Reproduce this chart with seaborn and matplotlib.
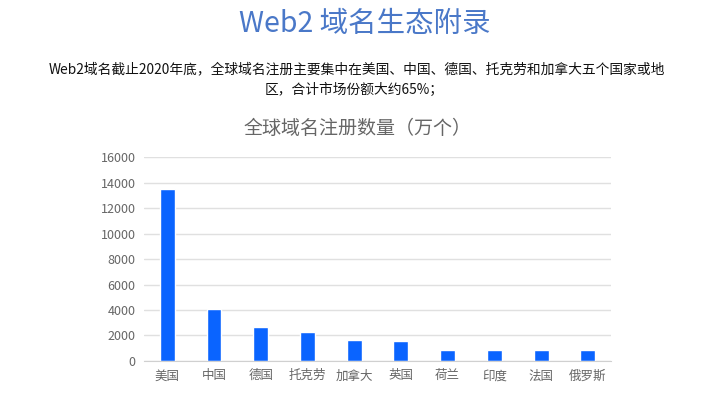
import matplotlib
matplotlib.use("Agg")
import matplotlib.pyplot as plt
import seaborn as sns
import pandas as pd

countries = ["美国", "中国", "德国", "托克劳", "加拿大", "英国", "荷兰", "印度", "法国", "俄罗斯"]
values = [13500, 4100, 2700, 2280, 1620, 1570, 880, 850, 850, 850]
yticks = [0, 2000, 4000, 6000, 8000, 10000, 12000, 14000, 16000]

sns.set_style("white")
plt.rcParams['font.family'] = ['Noto Sans CJK SC', 'DejaVu Sans']

df = pd.DataFrame({"country": countries, "value": values})

fig = plt.figure(figsize=(7.09, 3.96), dpi=100)
ax = fig.add_axes([0.203, 0.0884, 0.659, 0.5151])
sns.barplot(data=df, x="country", y="value", color="#0A64FF", saturation=1, width=0.32, ax=ax)
ax.set_ylim(0, 16000)
ax.set_yticks(yticks)
ax.set_yticklabels([str(v) for v in yticks])
ax.set_xlim(-0.5, len(countries) - 0.5)
ax.grid(axis="y", color="#E0E0E0", linewidth=1)
ax.set_axisbelow(True)
for s in ["top", "right", "left"]:
    ax.spines[s].set_visible(False)
ax.spines["bottom"].set_color("#D0D0D0")
ax.tick_params(axis="both", length=0, labelsize=9, colors="#666666", pad=6)
ax.set_xlabel("")
ax.set_ylabel("")

fig.text(0.515, 0.94, "Web2 域名生态附录", ha="center", va="center", fontsize=20.5, color="#4A78C8")
fig.text(0.503, 0.825, "Web2域名截止2020年底，全球域名注册主要集中在美国、中国、德国、托克劳和加拿大五个国家或地",
         ha="center", va="center", fontsize=9.9, color="#111111")
fig.text(0.5, 0.772, "区，合计市场份额大约65%；", ha="center", va="center", fontsize=9.9, color="#111111")
fig.text(0.505, 0.675, "全球域名注册数量（万个）", ha="center", va="center", fontsize=13.7, color="#666666")

fig.savefig("out.png", dpi=100)
